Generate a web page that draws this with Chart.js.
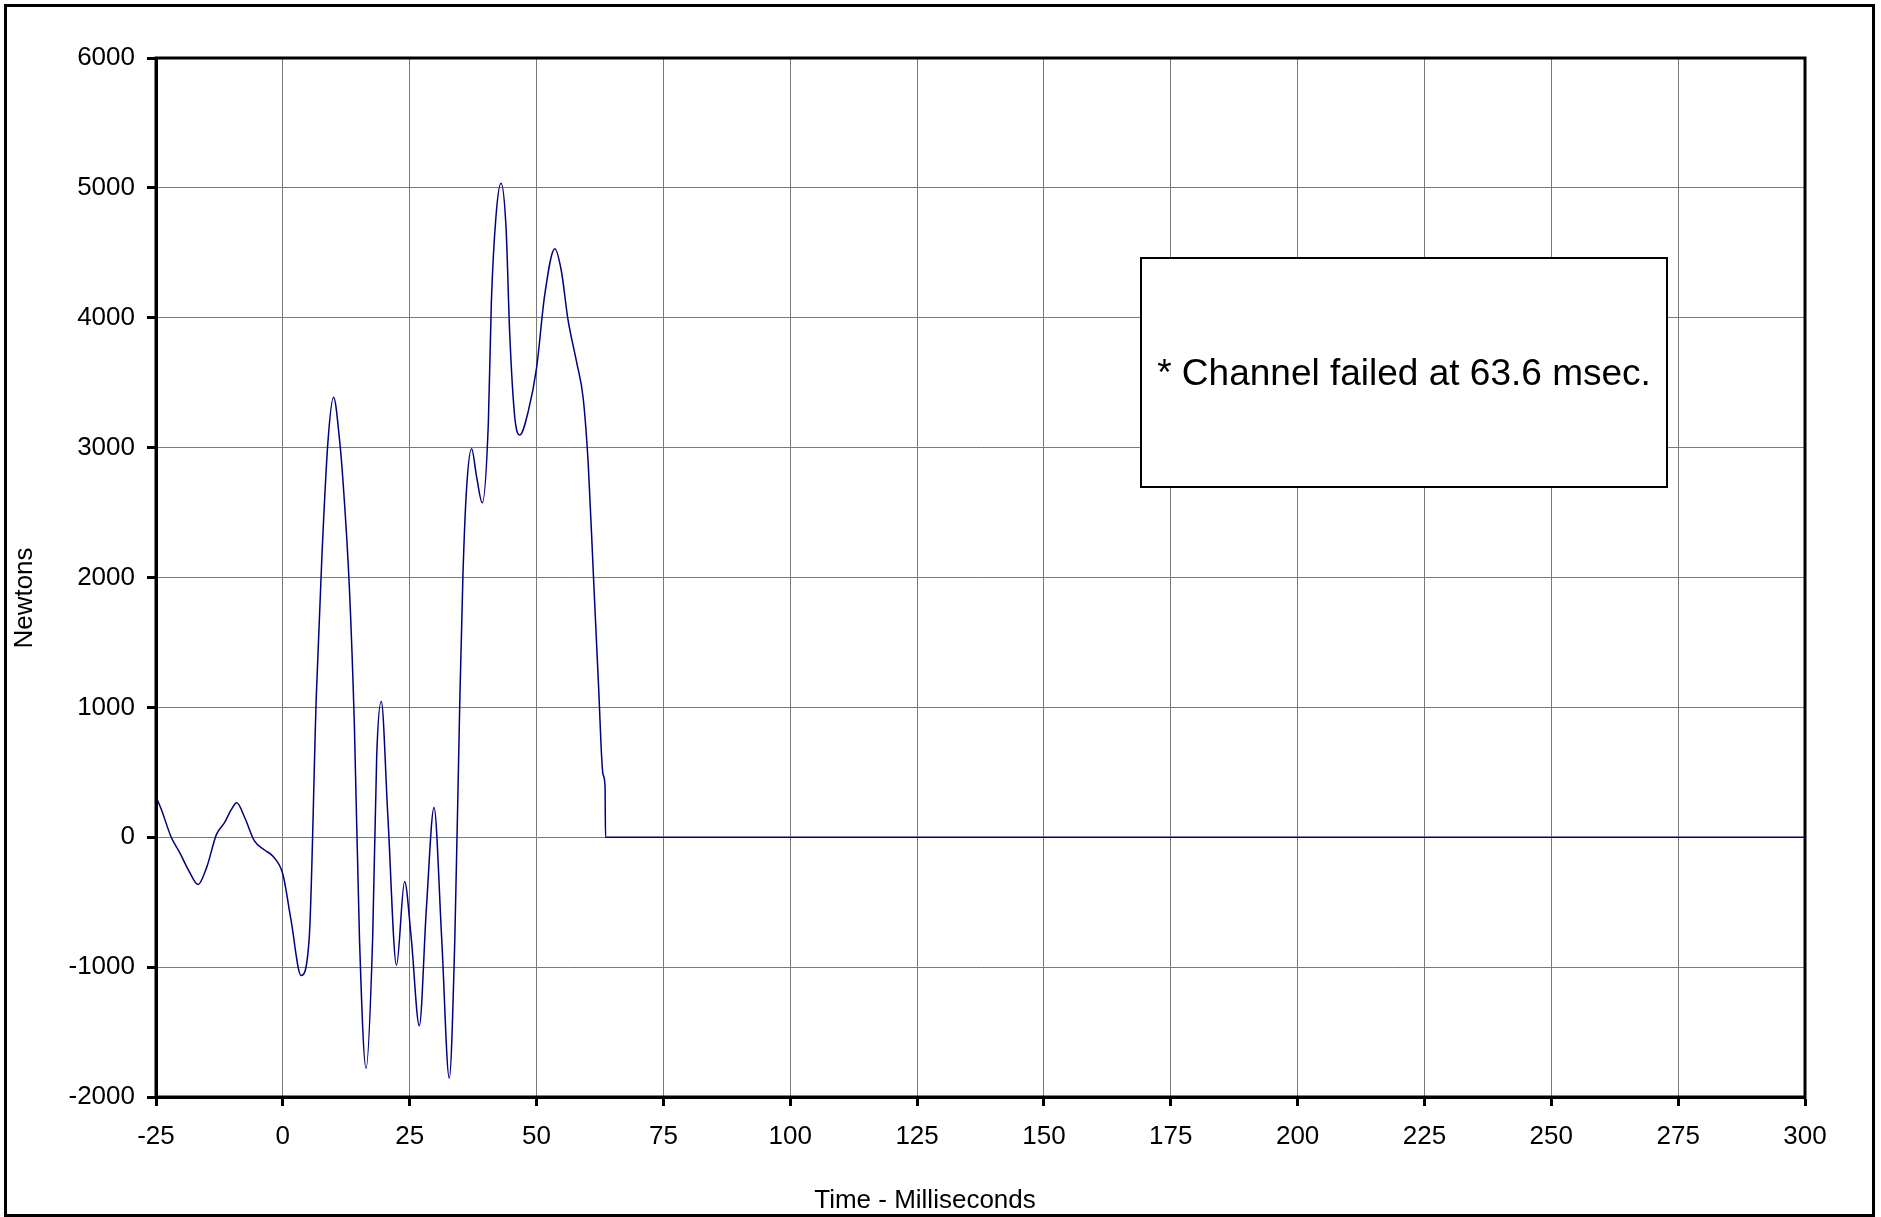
<!DOCTYPE html>
<html>
<head>
<meta charset="utf-8">
<script src="https://cdn.jsdelivr.net/npm/chart.js@4"></script>
<style>
  html, body { margin: 0; padding: 0; background: #fff; }
  canvas { display: block; }
</style>
</head>
<body>
<canvas id="force-chart" width="1881" height="1217"></canvas>
<script>
// Time (ms) and force (N)
const timeMs = [-25, -24, -22, -20.3, -18.5, -16.7, -15, -13.1, -11.5, -10.2, -9.1, -7.5, -5.6, -3.6, -2, 0,
  1.6, 3.6, 5.2, 6.6, 7.7, 8.9, 10, 11.2, 11.8, 13.1, 14.1, 15.1, 16.4, 17.7, 18.5, 19.4, 20.7, 22.4, 24,
  25.3, 26.9, 28.3, 29.8, 31.3, 32.8, 33.9, 34.9, 35.5, 36.2, 37.2, 38.2, 39.3, 40.5, 41.1, 42, 43, 44,
  44.7, 45.7, 46.7, 48.4, 50, 51.6, 53.6, 54.9, 56.2, 57.9, 59.2, 60.2, 61.2, 62.2, 63.1, 63.5, 63.6, 300];
const forceN = [310, 220, 0, -120, -260, -364, -230, 20, 112, 210, 266, 150, -28, -98, -145, -285,
  -635, -1064, -775, 1092, 2165, 3052, 3388, 3050, 2772, 1932, 859, -775, -1778, -775, 625, 1045, 159, -985, -341,
  -775, -1451, -541, 229, -775, -1855, -775, 1092, 2025, 2678, 2991, 2772, 2576, 3192, 4125, 4778, 5035, 4685,
  3892, 3238, 3098, 3285, 3612, 4172, 4531, 4358, 3985, 3658, 3378, 2865, 2025, 1185, 485, 392, 0, 0];

const xTitle = 'Time - Milliseconds';
const yTitle = 'Newtons';
const note = '* Channel failed at 63.6 msec.';

const points = timeMs.map((t, i) => ({ x: t, y: forceN[i] }));

// frame, axis titles and the note box
const decorations = {
  id: 'decorations',
  afterDraw(chart) {
    const ctx = chart.ctx;
    const area = chart.chartArea;
    ctx.save();
    ctx.strokeStyle = '#000';
    ctx.lineWidth = 3;
    ctx.strokeRect(area.left, area.top, area.right - area.left, area.bottom - area.top);
    ctx.strokeRect(5.5, 5.5, 1868, 1210);

    ctx.fillStyle = '#000';
    ctx.font = '26px "Liberation Sans", Arial, sans-serif';
    ctx.textAlign = 'center';
    ctx.textBaseline = 'middle';
    ctx.fillText(xTitle, 925, 1201);
    ctx.save();
    ctx.translate(25, 598);
    ctx.rotate(-Math.PI / 2);
    ctx.fillText(yTitle, 0, 0);
    ctx.restore();

    ctx.fillStyle = '#fff';
    ctx.fillRect(1141, 258, 526, 229);
    ctx.lineWidth = 2;
    ctx.strokeRect(1141, 258, 526, 229);
    ctx.fillStyle = '#000';
    ctx.font = '37px "Liberation Sans", Arial, sans-serif';
    ctx.fillText(note, 1404, 375);
    ctx.restore();
  }
};

const tickFont = { family: '"Liberation Sans", Arial, sans-serif', size: 26 };

const ctx = document.getElementById('force-chart').getContext('2d');
new Chart(ctx, {
  type: 'line',
  data: {
    datasets: [{
      label: 'Force',
      data: points,
      borderColor: '#000080',
      borderWidth: 1.5,
      pointRadius: 0,
      cubicInterpolationMode: 'monotone',
      fill: false
    }]
  },
  options: {
    responsive: false,
    animation: false,
    devicePixelRatio: 1,
    layout: {
      padding: { left: 0, right: 76, top: 58, bottom: 0 }
    },
    plugins: {
      legend: { display: false },
      tooltip: { enabled: false }
    },
    scales: {
      x: {
        type: 'linear',
        min: -25,
        max: 300,
        afterFit: (scale) => { scale.height = 120; },
        border: { color: '#000', width: 3 },
        grid: {
          color: '#7a7a7a',
          lineWidth: 1,
          tickColor: '#000',
          tickLength: 9,
          tickWidth: 3
        },
        ticks: {
          stepSize: 25,
          color: '#000',
          padding: 15,
          maxRotation: 0,
          font: tickFont,
          callback: (v) => String(v)
        }
      },
      y: {
        min: -2000,
        max: 6000,
        afterFit: (scale) => { scale.width = 156; },
        border: { color: '#000', width: 3 },
        grid: {
          color: '#7a7a7a',
          lineWidth: 1,
          tickColor: '#000',
          tickLength: 9,
          tickWidth: 3
        },
        ticks: {
          stepSize: 1000,
          color: '#000',
          padding: 12,
          font: tickFont,
          callback: (v) => String(v)
        }
      }
    }
  },
  plugins: [decorations]
});
</script>
</body>
</html>
